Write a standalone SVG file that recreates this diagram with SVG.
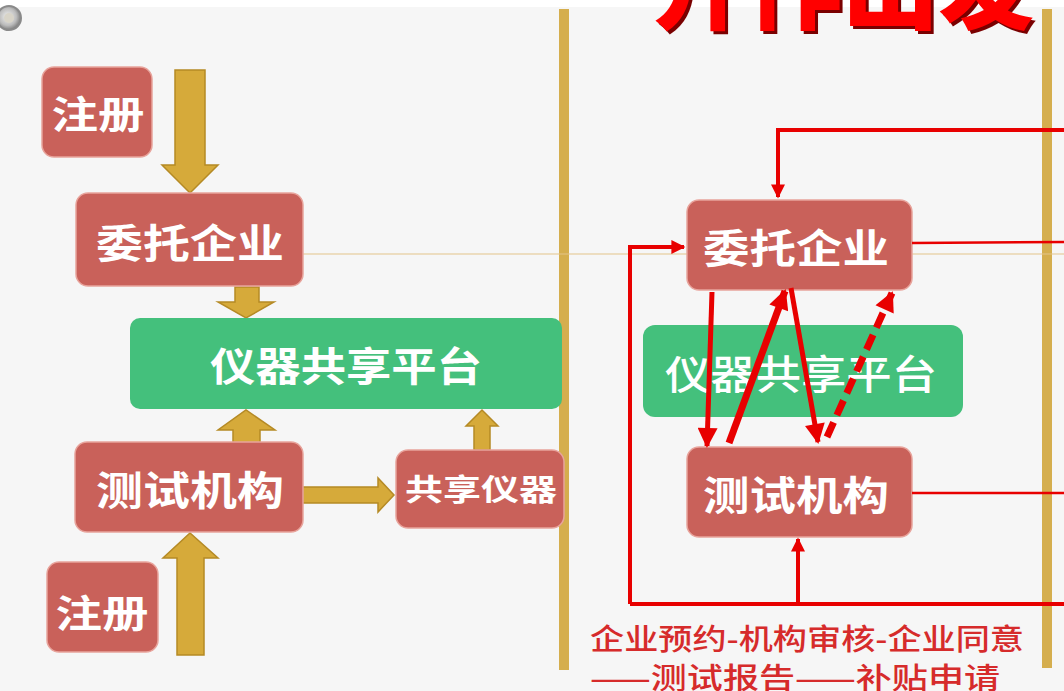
<svg xmlns="http://www.w3.org/2000/svg" width="1064" height="691" viewBox="0 0 1064 691">
  <style>
    .rbox { fill: #c9615a; stroke: #e8a49c; stroke-width: 1.5; }
    .gbox { fill: #44c07c; }
    .btxt { fill: #ffffff; font-family: "Noto Sans CJK SC", sans-serif; font-weight: bold; text-anchor: middle; }
    .garrow { fill: #d6aa3a; stroke: #b58a25; stroke-width: 1.5; }
    .bar { fill: #d5ae4e; }
    .red { stroke: #e80000; fill: none; }
    .note { fill: #d62b2b; font-family: "Noto Sans CJK SC", sans-serif; font-size: 29px; font-weight: 500; }
  </style>
  <defs>
    <marker id="ah" viewBox="0 0 10 10" refX="9" refY="5" markerWidth="16" markerHeight="14" markerUnits="userSpaceOnUse" orient="auto">
      <path d="M0,0 L10,5 L0,10 Z" fill="#e80000"/>
    </marker>
    <marker id="ahb" viewBox="0 0 10 10" refX="9" refY="5" markerWidth="22" markerHeight="20" markerUnits="userSpaceOnUse" orient="auto">
      <path d="M0,0 L10,5 L0,10 Z" fill="#e80000"/>
    </marker>
    <radialGradient id="knob" cx="0.45" cy="0.45" r="0.6">
      <stop offset="0" stop-color="#f2f2f2"/>
      <stop offset="0.6" stop-color="#bcbcbc"/>
      <stop offset="1" stop-color="#6e6e6e"/>
    </radialGradient>
  </defs>

  <rect x="0" y="0" width="1064" height="691" fill="#f6f6f6"/>
  <rect x="0" y="0" width="1064" height="7" fill="#ffffff"/>

  <!-- title (clipped at top) -->
  <g id="title">
    <text x="652" y="21" font-family="Noto Sans CJK SC, sans-serif" font-weight="900" font-size="98" fill="#7a0000" textLength="382" lengthAdjust="spacingAndGlyphs" transform="translate(3,3)">开作出发</text>
    <text x="652" y="21" font-family="Noto Sans CJK SC, sans-serif" font-weight="900" font-size="98" fill="#ff0000" textLength="382" lengthAdjust="spacingAndGlyphs">开作出发</text>
  </g>

  <g id="knob">
    <circle cx="9" cy="18" r="12" fill="url(#knob)" stroke="#8a8a8a" stroke-width="2"/>
    <circle cx="9" cy="18" r="5" fill="#d8d4c8"/>
  </g>

  <!-- vertical bars and thin line -->
  <g id="dividers">
    <rect class="bar" x="559" y="9" width="10" height="661"/>
    <rect class="bar" x="1042" y="9" width="10" height="659"/>
    <line x1="300" y1="254" x2="1064" y2="254" stroke="#e3c48a" stroke-width="1"/>
  </g>

  <!-- left column connectors (gold block arrows) -->
  <g id="connectors-left">
    <path class="garrow" d="M175,70 H205 V165 H218 L190,193 L162,165 H175 Z"/>
    <path class="garrow" d="M235,287 H259 V302 H274 L246,318 L218,302 H235 Z"/>
    <path class="garrow" d="M233,445 H260 V430 H275 L246,410 L218,430 H233 Z"/>
    <path class="garrow" d="M297,487 H378 V478 L394,495 L378,512 V503 H297 Z"/>
    <path class="garrow" d="M474,450 H490 V426 H498 L482,410 L466,426 H474 Z"/>
    <path class="garrow" d="M177,655 H204 V558 H218 L190,533 L163,558 H177 Z"/>
  </g>

  <!-- left column nodes -->
  <g id="reg-top">
    <rect class="rbox" x="42" y="67" width="110" height="90" rx="12"/>
    <text class="btxt" x="98" y="128" font-size="38" textLength="93" lengthAdjust="spacingAndGlyphs">注册</text>
  </g>
  <g id="client-left">
    <rect class="rbox" x="76" y="193" width="227" height="93" rx="12"/>
    <text class="btxt" x="190" y="258" font-size="40" textLength="188" lengthAdjust="spacingAndGlyphs">委托企业</text>
  </g>
  <g id="platform-left">
    <rect class="gbox" x="130" y="318" width="432" height="91" rx="10"/>
    <text class="btxt" x="346" y="381" font-size="40" textLength="272" lengthAdjust="spacingAndGlyphs">仪器共享平台</text>
  </g>
  <g id="lab-left">
    <rect class="rbox" x="75" y="442" width="228" height="90" rx="12"/>
    <text class="btxt" x="190" y="505" font-size="40" textLength="188" lengthAdjust="spacingAndGlyphs">测试机构</text>
  </g>
  <g id="instrument">
    <rect class="rbox" x="396" y="450" width="168" height="78" rx="12"/>
    <text class="btxt" x="481" y="500" font-size="30" textLength="152" lengthAdjust="spacingAndGlyphs" font-family="Liberation Serif, Noto Sans CJK SC, serif">共享仪器</text>
  </g>
  <g id="reg-bottom">
    <rect class="rbox" x="47" y="562" width="111" height="90" rx="12"/>
    <text class="btxt" x="102" y="627" font-size="38" textLength="93" lengthAdjust="spacingAndGlyphs">注册</text>
  </g>

  <!-- right column nodes -->
  <g id="client-right">
    <rect class="rbox" x="687" y="200" width="225" height="90" rx="12"/>
    <text class="btxt" x="796" y="263" font-size="40" textLength="186" lengthAdjust="spacingAndGlyphs">委托企业</text>
  </g>
  <g id="platform-right">
    <rect class="gbox" x="643" y="325" width="320" height="92" rx="12"/>
    <text class="btxt" x="801" y="389" font-size="40" textLength="272" lengthAdjust="spacingAndGlyphs" style="font-weight:500">仪器共享平台</text>
  </g>
  <g id="lab-right">
    <rect class="rbox" x="687" y="447" width="225" height="90" rx="12"/>
    <text class="btxt" x="796" y="510" font-size="40" textLength="186" lengthAdjust="spacingAndGlyphs">测试机构</text>
  </g>

  <!-- right column connectors (red) -->
  <g id="connectors-right">
    <polyline class="red" stroke-width="4" points="1064,130 778,130 778,197" marker-end="url(#ah)"/>
    <polyline class="red" stroke-width="4" points="630,604 630,247 684,247" marker-end="url(#ah)"/>
    <polyline class="red" stroke-width="4" points="630,604 1064,604"/>
    <line class="red" stroke-width="4" x1="798" y1="604" x2="798" y2="539" marker-end="url(#ah)"/>
    <line class="red" stroke-width="2.5" x1="912" y1="243" x2="1064" y2="242"/>
    <line class="red" stroke-width="2.5" x1="912" y1="493" x2="1064" y2="493"/>
    <line class="red" stroke-width="5" x1="712" y1="292" x2="707" y2="446" marker-end="url(#ahb)"/>
    <line class="red" stroke-width="7" x1="729" y1="443" x2="785" y2="291" marker-end="url(#ahb)"/>
    <line class="red" stroke-width="5" x1="791" y1="288" x2="818" y2="442" marker-end="url(#ahb)"/>
    <line class="red" stroke-width="7" stroke-dasharray="16,8" x1="827" y1="437" x2="892" y2="293" marker-end="url(#ahb)"/>
  </g>

  <!-- note -->
  <g id="note">
    <text class="note" x="590" y="650" textLength="434" lengthAdjust="spacingAndGlyphs">企业预约-机构审核-企业同意</text>
    <text class="note" x="590" y="689" textLength="410" lengthAdjust="spacingAndGlyphs">——测试报告——补贴申请</text>
  </g>
</svg>
